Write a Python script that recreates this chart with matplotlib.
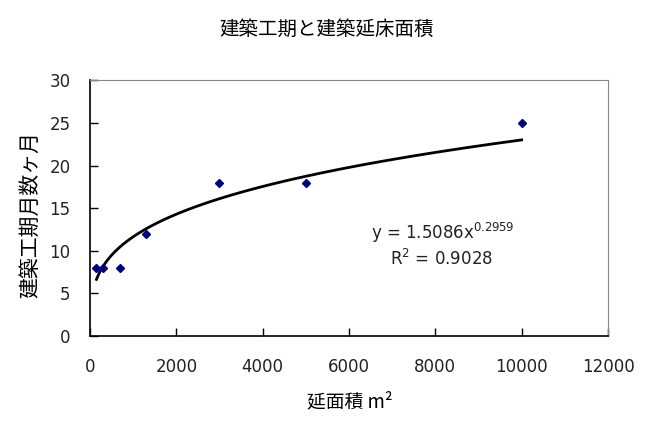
import numpy as np
import matplotlib; matplotlib.use("Agg")
import matplotlib.pyplot as plt
plt.rcParams["font.family"]=["Noto Sans CJK JP","DejaVu Sans"]

# data
area=[150,300,700,1300,3000,5000,10000]   # 延面積 m2
months=[8,8,8,12,18,18,25]                # 建築工期 月
coef_a=1.5086; coef_b=0.2959; r2=0.9028
xticks=[0,2000,4000,6000,8000,10000,12000]
yticks=[0,5,10,15,20,25,30]

fig=plt.figure(figsize=(6.53,4.29),dpi=100)
ax=fig.add_axes([0.1378,0.2168,0.7933,0.5956])

xs=np.linspace(min(area),max(area),300)
ax.plot(xs,coef_a*xs**coef_b,color="black",lw=2)
ax.plot(area,months,"D",color="#000080",ms=4.5,mec="#000080")

ax.set_xlim(0,12000); ax.set_ylim(0,30)
ax.set_xticks(xticks); ax.set_yticks(yticks)
ax.tick_params(direction="in",length=6,width=1,labelsize=12,colors="black")
ax.tick_params(axis="x",pad=16)
ax.tick_params(axis="y",pad=14)
for lab in ax.get_xticklabels()+ax.get_yticklabels():
    lab.set_family("DejaVu Sans"); lab.set_color("#222222")
for s in ["top","right"]:
    ax.spines[s].set_color("#888888"); ax.spines[s].set_linewidth(0.8)
for s in ["left","bottom"]:
    ax.spines[s].set_linewidth(1.2)

ax.text(0.542,0.405,"y = %.4fx$^{%.4f}$"%(coef_a,coef_b),transform=ax.transAxes,
        fontsize=12,ha="left",va="center",family="DejaVu Sans",color="#222222")
ax.text(0.58,0.30,"R$^2$ = %.4f"%r2,transform=ax.transAxes,
        fontsize=12,ha="left",va="center",family="DejaVu Sans",color="#222222")

fig.text(0.5,0.932,"建築工期と建築延床面積",ha="center",va="center",fontsize=14)
fig.text(0.535,0.063,"延面積 m²",ha="center",va="center",fontsize=13.5)
fig.text(0.046,0.5,"建築工期月数ヶ月",ha="center",va="center",fontsize=15,rotation=90)

fig.savefig("out.png",dpi=100)
